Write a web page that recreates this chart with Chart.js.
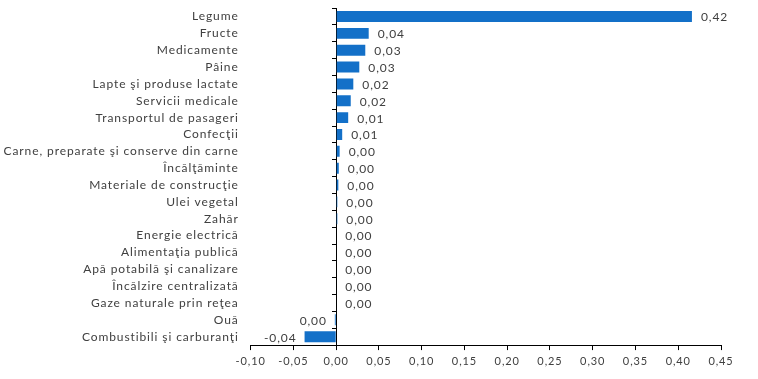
<!DOCTYPE html>
<html><head><meta charset="utf-8">
<script src="https://cdn.jsdelivr.net/npm/chart.js@4/dist/chart.umd.min.js"></script>
<style>html,body{margin:0;padding:0;background:#fff}#wrap{width:758px;height:379px}</style>
</head><body><div id="wrap"><canvas id="c"></canvas></div>
<script>
const categories = ["Legume","Fructe","Medicamente","Pâine","Lapte şi produse lactate","Servicii medicale","Transportul de pasageri","Confecţii","Carne, preparate şi conserve din carne","Încălţăminte","Materiale de construcţie","Ulei vegetal","Zahăr","Energie electrică","Alimentaţia publică","Apă potabilă şi canalizare","Încălzire centralizată","Gaze naturale prin reţea","Ouă","Combustibili şi carburanţi"];
const values = [0.416,0.038,0.034,0.027,0.020,0.017,0.014,0.007,0.004,0.003,0.0025,0.0013,0.0013,0,0,0,0,0,-0.0016,-0.037];
const xTicksMin = -0.10, xTicksMax = 0.45, xTicksStep = 0.05;

const FONT = "Lato";
const TXT = "#404040";
const fmt = v => { if (Math.abs(v) < 0.005) return "0,00"; return v.toFixed(2).replace(".", ","); };

const spacingPlugin = {
  id: "spacing",
  beforeDraw(chart) { chart.ctx.letterSpacing = "0.9px"; }
};

const labelPlugin = {
  id: "vlabels",
  afterDatasetsDraw(chart) {
    const ctx = chart.ctx;
    const meta = chart.getDatasetMeta(0);
    ctx.save();
    ctx.letterSpacing = "0.9px";
    ctx.font = "12px " + FONT;
    ctx.fillStyle = TXT;
    ctx.textBaseline = "middle";
    meta.data.forEach((bar, i) => {
      const v = values[i];
      const t = fmt(v);
      if (v < 0) { ctx.textAlign = "right"; ctx.fillText(t, bar.x - 8, bar.y + 1); }
      else { ctx.textAlign = "left"; ctx.fillText(t, bar.x + 9, bar.y + 1); }
    });
    ctx.restore();
  }
};

new Chart(document.getElementById("c"), {
  type: "bar",
  data: { labels: categories, datasets: [{ data: values, backgroundColor: "#1370c8", borderWidth: 0, categoryPercentage: 0.65, barPercentage: 1 }] },
  options: {
    indexAxis: "y",
    responsive: true, maintainAspectRatio: false, animation: false,
    layout: { padding: { top: 8.1, right: 37, bottom: 0, left: 0 } },
    plugins: { legend: { display: false }, tooltip: { enabled: false } },
    scales: {
      x: {
        type: "linear", min: xTicksMin, max: xTicksMax,
        ticks: { stepSize: xTicksStep, color: TXT, font: { family: FONT, size: 11 }, padding: 5, callback: v => v.toFixed(2).replace(".", ",") },
        grid: { display: true, drawOnChartArea: false, tickLength: 5, color: "#000" },
        border: { display: true, color: "#000", width: 1 },
        afterFit: s => { s.height = 33.9; s.paddingLeft = 0; s.paddingRight = 0; }
      },
      y: {
        type: "category", position: "left",
        ticks: { color: TXT, font: { family: FONT, size: 12 }, padding: 12, autoSkip: false },
        grid: { display: false, drawTicks: false },
        border: { display: false },
        afterFit: s => { s.width = 250.7; s.paddingTop = 0; s.paddingBottom = 0; }
      },
      y0: {
        type: "category", axis: "y", position: { x: 0 }, offset: true,
        ticks: { display: false },
        grid: { display: true, drawOnChartArea: false, tickLength: 4, color: "#000", offset: true },
        border: { display: true, color: "#000", width: 1 },
        afterFit: s => { s.width = 0; s.paddingTop = 0; s.paddingBottom = 0; }
      }
    }
  },
  plugins: [spacingPlugin, labelPlugin]
});
</script></body></html>
